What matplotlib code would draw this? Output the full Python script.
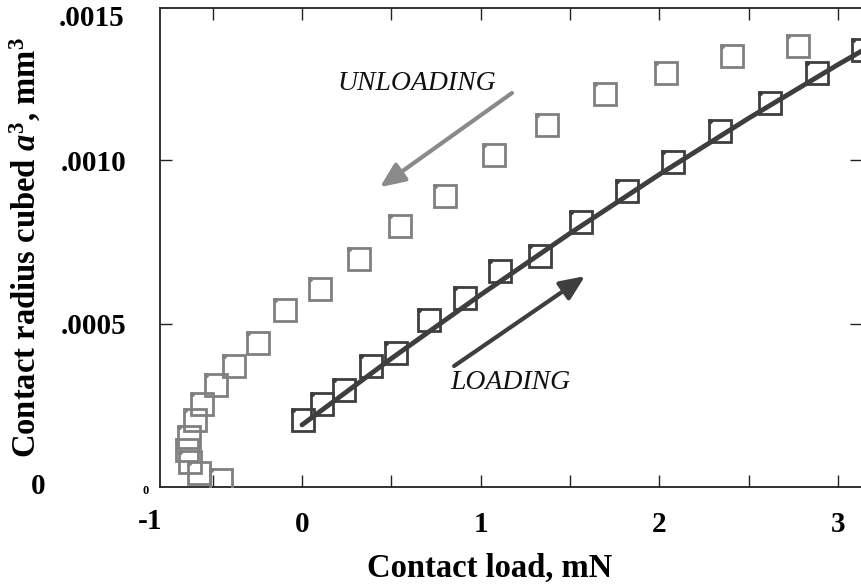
import matplotlib
matplotlib.use("Agg")
import matplotlib.pyplot as plt
import matplotlib.transforms as mtransforms
from matplotlib.ticker import MultipleLocator

# contact load (mN) and contact radius cubed (mm^3) while unloading
unload_load = [2.776, 2.406, 2.037, 1.696, 1.371, 1.074, 0.800, 0.548, 0.319, 0.101,
               -0.095, -0.246, -0.381, -0.481, -0.560, -0.599, -0.632, -0.644,
               -0.627, -0.576, -0.453]
unload_a3 = [1.349e-3, 1.318e-3, 1.266e-3, 1.202e-3, 1.107e-3, 1.015e-3, 0.890e-3,
             0.798e-3, 0.697e-3, 0.606e-3, 0.541e-3, 0.440e-3, 0.370e-3, 0.312e-3,
             0.254e-3, 0.205e-3, 0.153e-3, 0.113e-3, 0.076e-3, 0.043e-3, 0.021e-3]

# loading branch
load_load = [0.006, 0.112, 0.235, 0.386, 0.526, 0.711, 0.912, 1.108, 1.332, 1.561,
             1.819, 2.076, 2.339, 2.619, 2.882, 3.139]
load_a3 = [0.205e-3, 0.254e-3, 0.297e-3, 0.370e-3, 0.410e-3, 0.511e-3, 0.578e-3,
           0.661e-3, 0.706e-3, 0.810e-3, 0.905e-3, 0.994e-3, 1.089e-3, 1.174e-3,
           1.266e-3, 1.336e-3]

# fitted loading curve
fit_load = [0.0, 0.5, 1.0, 1.5, 2.0, 2.5, 3.0, 3.15]
fit_a3 = [0.190e-3, 0.393e-3, 0.588e-3, 0.776e-3, 0.956e-3, 1.128e-3, 1.292e-3, 1.339e-3]

xticks = [0, 1, 2, 3]
yticks = [0.0005, 0.0010]
ytick_labels = [".0005", ".0010"]

SERIF = "Liberation Serif"
LIGHT = "#808080"
DARK = "#3e3e3e"

plt.rcParams["mathtext.fontset"] = "custom"
plt.rcParams["mathtext.rm"] = "Liberation Serif:bold"
plt.rcParams["mathtext.bf"] = "Liberation Serif:bold"
plt.rcParams["mathtext.it"] = "Liberation Serif:italic:bold"

fig = plt.figure(figsize=(8.61, 5.86), dpi=100)
ax = fig.add_axes([160 / 861, 99 / 586, 702 / 861, 479 / 586])

# small corner dots sit just above-left of each square
corner = mtransforms.offset_copy(ax.transData, fig=fig, x=-10, y=10, units="dots")

for xs, ys, col in [(unload_load, unload_a3, LIGHT), (load_load, load_a3, DARK)]:
    ax.plot(xs, ys, linestyle="none", marker="s", markersize=15.5,
            markerfacecolor="none", markeredgecolor=col, markeredgewidth=2.0, zorder=3)
    ax.plot(xs, ys, linestyle="none", marker="o", markersize=2.6, color=col,
            transform=corner, zorder=3)
ax.plot(fit_load, fit_a3, color=DARK, linewidth=3.5, solid_capstyle="round", zorder=4)

# direction arrows
head = "-|>,head_length=1.5,head_width=0.65"
ax.annotate("", xy=(0.436, 0.917e-3), xytext=(1.175, 1.205e-3),
            arrowprops=dict(arrowstyle=head, color="#8a8a8a", lw=3.0,
                            shrinkA=0, shrinkB=0))
ax.annotate("", xy=(1.584, 0.645e-3), xytext=(0.851, 0.370e-3),
            arrowprops=dict(arrowstyle=head, color=DARK, lw=3.0,
                            shrinkA=0, shrinkB=0))
ax.text(0.644, 1.235e-3, "UNLOADING", fontsize=20, style="italic", family=SERIF,
        ha="center", va="center", color="#111111")
ax.text(1.164, 0.321e-3, "LOADING", fontsize=20, style="italic", family=SERIF,
        ha="center", va="center", color="#111111")

ax.set_xlim(-0.795, 3.134)
ax.set_ylim(0, 1.465e-3)

ax.xaxis.set_minor_locator(MultipleLocator(0.5))
ax.set_xticks(xticks)
ax.set_xticklabels([str(t) for t in xticks])
ax.set_yticks(yticks)
ax.set_yticklabels(ytick_labels)
ax.tick_params(which="both", direction="in", length=8.5, width=1.0,
               top=True, right=True, color="#222222")
ax.tick_params(axis="x", pad=17, labelsize=21)
ax.tick_params(axis="y", pad=24, labelsize=21)
for lab in ax.get_xticklabels() + ax.get_yticklabels():
    lab.set_family(SERIF)
    lab.set_fontweight("bold")

# labels at the ends of the axes
ax.text(-0.85, -0.000105, "-1", fontsize=21, fontweight="bold", family=SERIF,
        ha="center", va="center", clip_on=False)
ax.text(-0.173, 0.0, "0", transform=ax.transAxes, fontsize=21, fontweight="bold",
        family=SERIF, ha="center", va="center")
ax.text(-0.02, -0.008, "0", transform=ax.transAxes, fontsize=9, fontweight="bold",
        family=SERIF, ha="center", va="center")
ax.text(-0.05, 0.978, ".0015", transform=ax.transAxes, fontsize=21, fontweight="bold",
        family=SERIF, ha="right", va="center")

for sp in ax.spines.values():
    sp.set_linewidth(1.3)
    sp.set_color("#222222")

xl = ax.set_xlabel("Contact load, mN", fontsize=23.5, fontweight="bold", family=SERIF)
yl = ax.set_ylabel(r"Contact radius cubed $a^3$, mm$^3$", fontsize=23.5,
                   fontweight="bold", family=SERIF)
xl.set_va("center")
yl.set_va("center")
ax.xaxis.set_label_coords(0.47, -0.169)
ax.yaxis.set_label_coords(-0.192, 0.5)

fig.savefig("out.png", dpi=100)
